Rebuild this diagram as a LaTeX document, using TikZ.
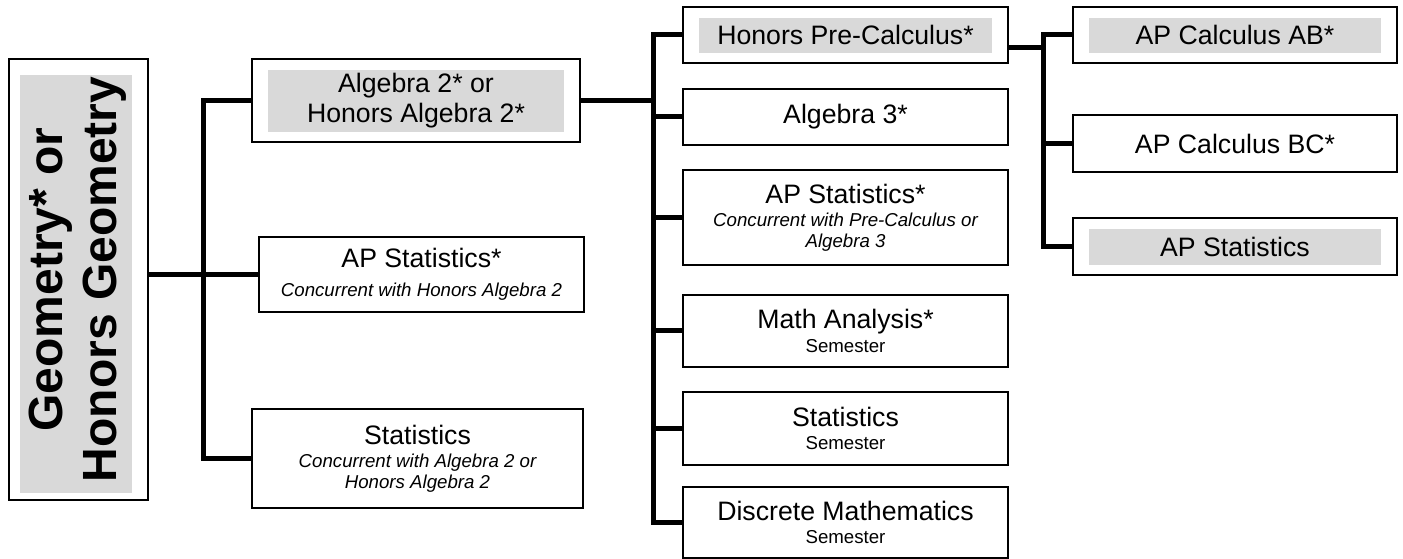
\documentclass[tikz,border=0pt]{standalone}
\usepackage{fontspec}
\setmainfont{Liberation Sans}
\usetikzlibrary{positioning}
\definecolor{boxgray}{HTML}{D9D9D9}
\newcommand{\aside}[1]{{\fontsize{14}{16}\selectfont\itshape #1}}
\newcommand{\term}[1]{{\fontsize{14}{16}\selectfont #1}}

\begin{document}
\begin{tikzpicture}[x=0.75pt,y=0.75pt,font=\fontsize{20}{22}\selectfont,
  course/.style 2 args={draw,line width=1pt,inner sep=0pt,align=center,
    minimum width=#1*0.75pt,minimum height=#2*0.75pt},
  inset/.style n args={4}{path picture={\fill[boxgray]
    ([xshift=#1,yshift=-#2]path picture bounding box.north west) rectangle
    ([xshift=-#3,yshift=#4]path picture bounding box.south east);}},
  tinted/.style={inset={12pt}{8.25pt}{12pt}{7.5pt}},
  link/.style={line width=3.75pt}]
\useasboundingbox (0,0) rectangle (1403,-559);
% starting course
\node[course={139}{441},inset={8.25pt}{12pt}{12pt}{5.25pt}] (geo) at (78.5,-279.5)
  {\rotatebox{90}{\fontsize{36}{41}\selectfont\bfseries
   \begin{tabular}{@{}c@{}}Geometry* or\\Honors Geometry\end{tabular}}};
% second column
\node[course={328}{83},tinted] (alg2) at (416,-100.5) {Algebra 2* or\\Honors Algebra 2*};
\node[course={325}{75}] (apstat1) at (421.5,-274.5)
  {AP Statistics*\\\aside{Concurrent with Honors Algebra 2}};
\node[course={331}{99}] (stat1) at (417.5,-458.5)
  {Statistics\\[-4.5pt]\aside{Concurrent with Algebra 2 or}\\[-6.5pt]\aside{Honors Algebra 2}};
% third column
\node[course={325}{56},tinted] (hpc) at (845.5,-35) {Honors Pre-Calculus*};
\node[course={325}{56}] (alg3) at (845.5,-117) {Algebra 3*};
\node[course={325}{95}] (apstat2) at (845.5,-217.5)
  {AP Statistics*\\[-4.5pt]\aside{Concurrent with Pre-Calculus or}\\[-6.5pt]\aside{Algebra 3}};
\node[course={325}{72}] (mathan) at (845.5,-331) {Math Analysis*\\[-4.5pt]\term{Semester}};
\node[course={325}{73}] (stat2) at (845.5,-428.5) {Statistics\\[-4.5pt]\term{Semester}};
\node[course={325}{71}] (disc) at (845.5,-522.5) {Discrete Mathematics\\[-4.5pt]\term{Semester}};
% fourth column
\node[course={324}{56},tinted] (calcab) at (1235,-35) {AP Calculus AB*};
\node[course={324}{57}] (calcbc) at (1235,-143.5) {AP Calculus BC*};
\node[course={324}{57},tinted] (apstat3) at (1235,-246.5) {AP Statistics};
% connectors
\coordinate (spineA) at (203,0);
\coordinate (spineB) at (653,0);
\coordinate (spineC) at (1043,0);
\coordinate (hpcout) at ([yshift=-9.75pt]hpc.east);
\draw[link] (geo.east |- apstat1.west) -- (apstat1.west);
\draw[link] (alg2.west) -- (spineA |- alg2.west) -- (spineA |- stat1.west) -- (stat1.west);
\draw[link] (alg2.east) -- (spineB |- alg2.east);
\draw[link] (hpc.west) -- (spineB |- hpc.west) -- (spineB |- disc.west) -- (disc.west);
\foreach \n in {alg3,apstat2,mathan,stat2}
  \draw[link] (spineB |- \n.west) -- (\n.west);
\draw[link] (hpcout) -- (spineC |- hpcout);
\draw[link] (calcab.west) -- (spineC |- calcab.west) -- (spineC |- apstat3.west) -- (apstat3.west);
\draw[link] (spineC |- calcbc.west) -- (calcbc.west);
\end{tikzpicture}
\end{document}
